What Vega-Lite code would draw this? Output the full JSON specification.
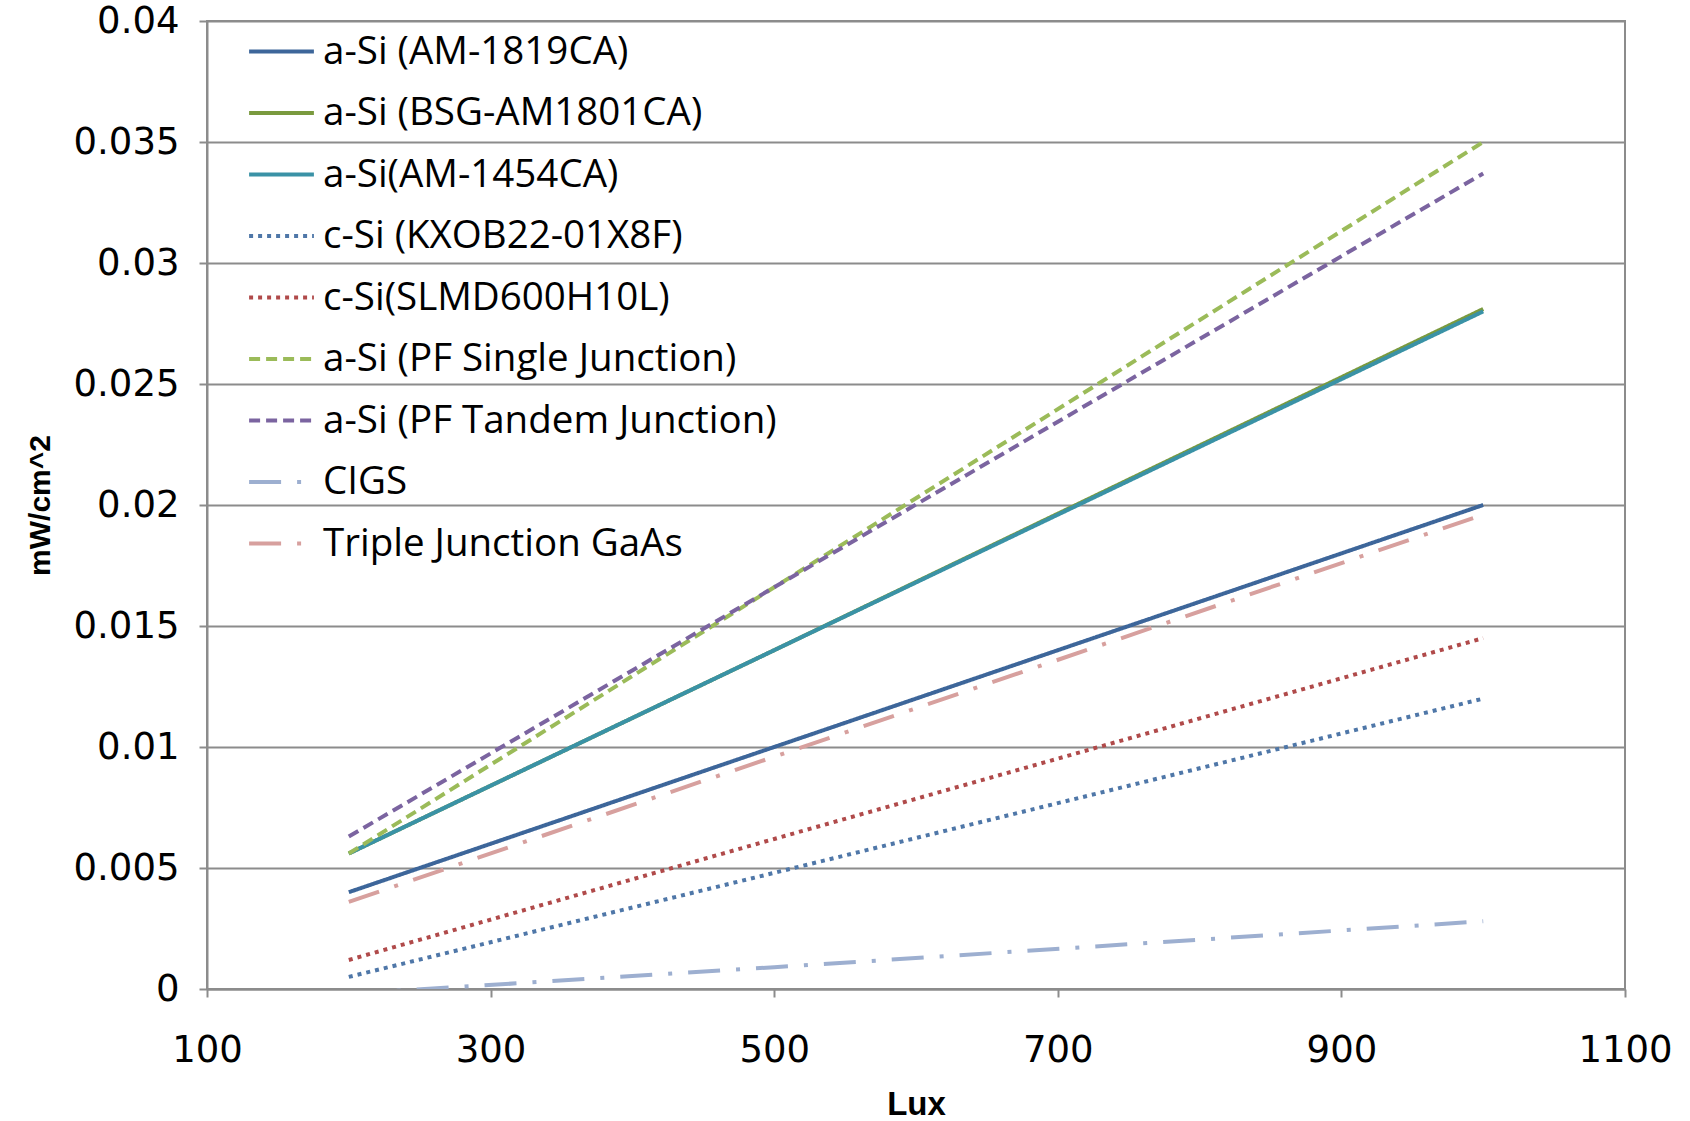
{
  "$schema": "https://vega.github.io/schema/vega-lite/v6.json",
  "width": 1418,
  "height": 968,
  "autosize": {"type": "none"},
  "padding": {"left": 207, "top": 21, "right": 65, "bottom": 132},
  "background": "white",
  "config": {
    "view": {"stroke": "#8c8c8c", "strokeWidth": 2},
    "axis": {"labelFont": "DejaVu Sans", "labelFontSize": 37, "labelColor": "#000", "titleFont": "Liberation Sans", "titleFontSize": 33, "titleFontWeight": "bold", "titleColor": "#000", "domainColor": "#8c8c8c", "domainWidth": 2, "tickColor": "#8c8c8c", "tickWidth": 2, "tickSize": 8}
  },
  "data": {
    "values": [
      {"series": "a-Si (AM-1819CA)", "lux": 200, "p": 0.0040},
      {"series": "a-Si (AM-1819CA)", "lux": 500, "p": 0.0100},
      {"series": "a-Si (AM-1819CA)", "lux": 1000, "p": 0.0200},
      {"series": "a-Si (BSG-AM1801CA)", "lux": 200, "p": 0.0056},
      {"series": "a-Si (BSG-AM1801CA)", "lux": 500, "p": 0.0140},
      {"series": "a-Si (BSG-AM1801CA)", "lux": 1000, "p": 0.0281},
      {"series": "a-Si(AM-1454CA)", "lux": 200, "p": 0.0056},
      {"series": "a-Si(AM-1454CA)", "lux": 500, "p": 0.0140},
      {"series": "a-Si(AM-1454CA)", "lux": 1000, "p": 0.0280},
      {"series": "c-Si (KXOB22-01X8F)", "lux": 200, "p": 0.0005},
      {"series": "c-Si (KXOB22-01X8F)", "lux": 500, "p": 0.0048},
      {"series": "c-Si (KXOB22-01X8F)", "lux": 1000, "p": 0.0120},
      {"series": "c-Si(SLMD600H10L)", "lux": 200, "p": 0.0012},
      {"series": "c-Si(SLMD600H10L)", "lux": 500, "p": 0.0062},
      {"series": "c-Si(SLMD600H10L)", "lux": 1000, "p": 0.0145},
      {"series": "a-Si (PF Single Junction)", "lux": 200, "p": 0.0056},
      {"series": "a-Si (PF Single Junction)", "lux": 500, "p": 0.0166},
      {"series": "a-Si (PF Single Junction)", "lux": 1000, "p": 0.0350},
      {"series": "a-Si (PF Tandem Junction)", "lux": 200, "p": 0.0063},
      {"series": "a-Si (PF Tandem Junction)", "lux": 500, "p": 0.0166},
      {"series": "a-Si (PF Tandem Junction)", "lux": 1000, "p": 0.0337},
      {"series": "CIGS", "lux": 200, "p": -0.0002},
      {"series": "CIGS", "lux": 500, "p": 0.0009},
      {"series": "CIGS", "lux": 1000, "p": 0.0028},
      {"series": "Triple Junction GaAs", "lux": 200, "p": 0.0036},
      {"series": "Triple Junction GaAs", "lux": 500, "p": 0.0096},
      {"series": "Triple Junction GaAs", "lux": 1000, "p": 0.0196}
    ]
  },
  "mark": {"type": "line", "strokeWidth": 4, "clip": true},
  "encoding": {
    "x": {"field": "lux", "type": "quantitative", "title": "Lux",
      "scale": {"domain": [100, 1100], "nice": false},
      "axis": {"values": [100, 300, 500, 700, 900, 1100], "format": "d", "labelFlush": false, "labelOverlap": false, "grid": false, "labelPadding": 35, "titlePadding": 20}},
    "y": {"field": "p", "type": "quantitative", "title": "mW/cm^2",
      "scale": {"domain": [0, 0.04], "nice": false},
      "axis": {"values": [0, 0.005, 0.01, 0.015, 0.02, 0.025, 0.03, 0.035, 0.04], "labelExpr": "datum.value == 0 ? '0' : format(datum.value, '~g')", "labelFlush": false, "labelOverlap": false, "grid": true, "gridColor": "#8c8c8c", "gridWidth": 2, "labelPadding": 20, "titlePadding": 18, "titleFontSize": 30}},
    "color": {"field": "series", "type": "nominal",
      "sort": ["a-Si (AM-1819CA)", "a-Si (BSG-AM1801CA)", "a-Si(AM-1454CA)", "c-Si (KXOB22-01X8F)", "c-Si(SLMD600H10L)", "a-Si (PF Single Junction)", "a-Si (PF Tandem Junction)", "CIGS", "Triple Junction GaAs"],
      "scale": {"domain": ["a-Si (AM-1819CA)", "a-Si (BSG-AM1801CA)", "a-Si(AM-1454CA)", "c-Si (KXOB22-01X8F)", "c-Si(SLMD600H10L)", "a-Si (PF Single Junction)", "a-Si (PF Tandem Junction)", "CIGS", "Triple Junction GaAs"],
        "range": ["#3D669A", "#7A9A3E", "#3A92A6", "#4F77A8", "#B04A4A", "#9BBB59", "#7B64A0", "#9DAFD0", "#D7A09E"]},
      "legend": {"title": null, "orient": "none", "legendX": 40, "legendY": -4, "symbolType": "stroke", "symbolSize": 4200, "symbolStrokeWidth": 4, "labelFont": "Open Sans", "labelFontSize": 38.5, "labelColor": "#000", "labelLimit": 800, "rowPadding": 7.5, "labelOffset": 7, "symbolOffset": 0}},
    "strokeDash": {"field": "series", "type": "nominal",
      "sort": ["a-Si (AM-1819CA)", "a-Si (BSG-AM1801CA)", "a-Si(AM-1454CA)", "c-Si (KXOB22-01X8F)", "c-Si(SLMD600H10L)", "a-Si (PF Single Junction)", "a-Si (PF Tandem Junction)", "CIGS", "Triple Junction GaAs"],
      "scale": {"domain": ["a-Si (AM-1819CA)", "a-Si (BSG-AM1801CA)", "a-Si(AM-1454CA)", "c-Si (KXOB22-01X8F)", "c-Si(SLMD600H10L)", "a-Si (PF Single Junction)", "a-Si (PF Tandem Junction)", "CIGS", "Triple Junction GaAs"],
        "range": [[1, 0], [1, 0], [1, 0], [4, 5], [4, 5], [11, 6], [11, 6], [32, 16, 4, 16], [32, 16, 4, 16]]},
      "legend": null}
  }
}
